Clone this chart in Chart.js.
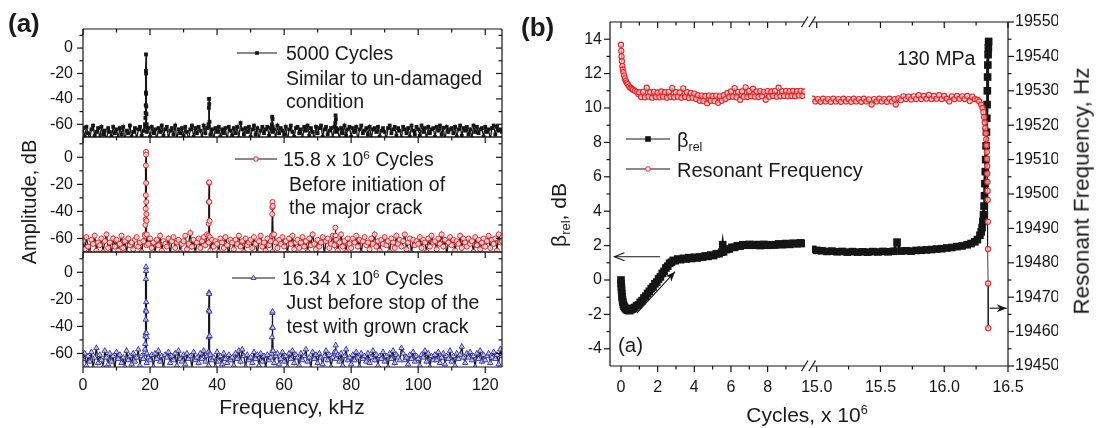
<!DOCTYPE html>
<html>
<head>
<meta charset="utf-8">
<script src="https://cdn.jsdelivr.net/npm/chart.js@4.4.1/dist/chart.umd.min.js"></script>
<style>
  body { margin: 0; background: #fff; }
  #fig { position: relative; width: 1096px; height: 428px; overflow: hidden;
         font-family: "Liberation Sans", Arial, sans-serif; color: #1a1a1a; }
  #fig canvas { position: absolute; top: 0; }
  .t { position: absolute; white-space: nowrap; line-height: 1; }
  .rot { transform: translate(-50%, -50%) rotate(-90deg); }
  .ctr { transform: translateX(-50%); }
  sup { font-size: 0.6em; vertical-align: 0.62em; line-height: 0; }
  sub { font-size: 0.62em; vertical-align: -0.32em; line-height: 0; }
</style>
</head>
<body>
<div id="fig">
  <canvas id="a1" width="520" height="428" style="left:0"></canvas>
  <canvas id="a2" width="520" height="428" style="left:0"></canvas>
  <canvas id="a3" width="520" height="428" style="left:0"></canvas>
  <canvas id="b1" width="576" height="428" style="left:520px"></canvas>
  <canvas id="b2" width="576" height="428" style="left:520px"></canvas>

  <div class="t" style="left:8px;top:10px;font-size:26px;font-weight:bold">(a)</div>
  <div class="t" style="left:521px;top:14px;font-size:26px;font-weight:bold">(b)</div>

  <div class="t rot" style="left:29px;top:202px;font-size:20px">Amplitude, dB</div>
  <div class="t ctr" style="left:292px;top:396px;font-size:21px">Frequency, kHz</div>

  <div class="t" style="left:286px;top:43.5px;font-size:19.5px">5000 Cycles</div>
  <div class="t" style="left:286px;top:68.5px;font-size:19.5px">Similar to un-damaged</div>
  <div class="t" style="left:286px;top:92px;font-size:19.5px">condition</div>
  <div class="t" style="left:283px;top:149.5px;font-size:19.5px">15.8 x 10<sup>6</sup> Cycles</div>
  <div class="t" style="left:289px;top:174.5px;font-size:19.5px">Before initiation of</div>
  <div class="t" style="left:289px;top:197.5px;font-size:19.5px">the major crack</div>
  <div class="t" style="left:282px;top:268.5px;font-size:19.5px">16.34 x 10<sup>6</sup> Cycles</div>
  <div class="t" style="left:286.5px;top:293px;font-size:19.5px">Just before stop of the</div>
  <div class="t" style="left:286.5px;top:317px;font-size:19.5px">test with grown crack</div>

  <div class="t" style="left:897px;top:48.5px;font-size:19.6px">130 MPa</div>
  <div class="t" style="left:618px;top:335px;font-size:20.5px">(a)</div>
  <div class="t" style="left:677px;top:130px;font-size:20px">β<sub>rel</sub></div>
  <div class="t" style="left:677px;top:159.5px;font-size:20px">Resonant Frequency</div>
  <div class="t rot" style="left:558px;top:215px;font-size:21px">β<sub>rel</sub>, dB</div>
  <div class="t ctr" style="left:807px;top:404px;font-size:21px">Cycles, x 10<sup>6</sup></div>
  <div class="t rot" style="left:1082px;top:191px;font-size:22.5px">Resonant Frequency, Hz</div>
</div>

<script>
// ---- panel (a): spectra, dB, sampled every 0.5 kHz from 0 to 125 kHz ----
const A_STEP_KHZ = 0.5;

const NOISE_5000 = [
  -63,-70,-62,-67,-72,-64,-61,-69,-66,-63,
  -71,-62,-68,-65,-74,-63,-66,-70,-62,-67,
  -64,-71,-63,-68,-62,-73,-65,-67,-61,-70,
  -66,-63,-72,-64,-62,-69,-65,-60,-66,-63,
  -70,-62,-67,-64,-73,-63,-66,-61,-69,-64,
  -62,-71,-65,-63,-68,-61,-72,-64,-67,-63,
  -69,-62,-66,-73,-64,-61,-70,-63,-67,-62,
  -65,-71,-61,-67,-63,-62,-68,-64,-72,-63,
  -66,-62,-70,-64,-67,-63,-73,-62,-65,-69,
  -63,-67,-62,-71,-59,-64,-68,-63,-66,-62,
  -70,-64,-61,-68,-63,-72,-65,-62,-67,-64,
  -62,-69,-63,-66,-64,-71,-61,-67,-63,-65,
  -68,-62,-73,-64,-61,-66,-70,-63,-62,-67,
  -64,-71,-62,-65,-61,-69,-63,-66,-72,-62,
  -67,-63,-61,-70,-64,-62,-68,-65,-63,-71,
  -62,-66,-64,-72,-63,-67,-61,-69,-64,-62,
  -70,-63,-66,-62,-73,-64,-61,-67,-65,-63,
  -68,-62,-71,-64,-63,-66,-62,-70,-65,-63,
  -66,-72,-63,-61,-67,-64,-62,-69,-63,-65,
  -71,-62,-64,-67,-63,-70,-61,-65,-68,-62,
  -64,-69,-61,-66,-63,-72,-62,-67,-64,-63,
  -70,-62,-65,-61,-68,-63,-73,-62,-66,-64,
  -63,-67,-62,-70,-64,-61,-69,-63,-65,-62,
  -68,-64,-71,-61,-66,-62,-67,-64,-63,-70,
  -62,-66,-64,-72,-63,-61,-68,-62,-65,-64,
  -66
];
const PEAKS_5000 = [
  [18.55,-62],[18.62,-55],[18.68,-51],[18.72,-45],[18.76,-35],[18.78,-18],[18.8,-5],
  [18.82,-20],[18.84,-36],[18.88,-46],[18.93,-52],[19.0,-60],
  [37.45,-60],[37.55,-47],[37.6,-40],[37.65,-44],[37.75,-58],
  [56.35,-60],[56.45,-54],[56.55,-56],[56.6,-62],
  [75.25,-59],[75.35,-53],[75.45,-56],[75.55,-63]
];

const NOISE_15_8M = [
  -62,-68,-59,-66,-71,-61,-64,-58,-69,-63,
  -65,-60,-70,-62,-57,-67,-63,-72,-60,-66,
  -61,-69,-64,-58,-67,-62,-71,-60,-65,-63,
  -68,-61,-59,-66,-63,-70,-62,-57,-65,-64,
  -60,-67,-63,-71,-61,-65,-58,-69,-62,-64,
  -66,-60,-72,-62,-59,-67,-63,-61,-70,-64,
  -62,-58,-68,-64,-56,-66,-61,-71,-63,-60,
  -67,-62,-59,-65,-57,-63,-69,-61,-66,-62,
  -64,-70,-60,-63,-67,-59,-65,-72,-61,-63,
  -68,-61,-64,-58,-66,-62,-70,-60,-65,-63,
  -61,-67,-59,-64,-71,-62,-58,-66,-63,-69,
  -60,-65,-62,-70,-57,-63,-67,-61,-64,-59,
  -66,-62,-71,-60,-64,-58,-68,-63,-61,-67,
  -63,-59,-66,-62,-70,-60,-65,-57,-64,-68,
  -61,-66,-63,-59,-72,-62,-60,-67,-64,-58,
  -65,-61,-69,-63,-57,-66,-62,-70,-60,-64,
  -67,-60,-63,-58,-66,-61,-71,-62,-59,-65,
  -63,-68,-60,-64,-57,-66,-62,-69,-61,-64,
  -59,-65,-62,-70,-60,-63,-67,-58,-64,-61,
  -66,-62,-57,-68,-63,-60,-71,-61,-65,-62,
  -64,-59,-67,-61,-63,-70,-60,-66,-58,-63,
  -62,-68,-60,-64,-57,-66,-61,-72,-63,-59,
  -65,-61,-69,-62,-64,-58,-67,-60,-63,-66,
  -60,-64,-62,-70,-59,-65,-61,-68,-63,-60,
  -66,-62,-58,-67,-61,-64,-60,-69,-57,-63,
  -62
];
const PEAKS_15_8M = [
  [18.5,-58],[18.6,-50],[18.66,-46],[18.7,-38],[18.74,-28],[18.77,-6],[18.8,4],
  [18.82,2],[18.84,-19],[18.87,-33],[18.9,-42],[18.95,-47],[19.02,-57],
  [37.4,-58],[37.5,-49],[37.56,-33],[37.6,-19],[37.64,-18.5],[37.7,-33],[37.76,-47],[37.85,-59],
  [56.35,-58],[56.45,-42],[56.5,-37],[56.55,-33],[56.6,-36],[56.7,-57],
  [75.25,-58],[75.3,-52],[75.4,-58]
];

const NOISE_16_34M = [
  -64,-60,-69,-62,-66,-59,-71,-63,-56,-67,
  -61,-65,-70,-58,-63,-68,-60,-66,-62,-72,
  -59,-64,-61,-67,-63,-70,-58,-65,-62,-68,
  -60,-66,-63,-57,-69,-62,-64,-59,-67,-63,
  -65,-61,-70,-60,-64,-58,-66,-62,-71,-61,
  -63,-59,-67,-62,-65,-60,-69,-58,-64,-66,
  -61,-68,-60,-64,-62,-71,-59,-65,-63,-67,
  -60,-64,-58,-66,-62,-69,-61,-65,-63,-70,
  -59,-66,-62,-68,-60,-64,-67,-61,-65,-63,
  -69,-60,-64,-58,-66,-57,-62,-70,-61,-65,
  -63,-67,-59,-64,-61,-69,-60,-66,-62,-71,
  -61,-65,-63,-58,-67,-62,-60,-68,-64,-59,
  -66,-62,-70,-60,-64,-58,-67,-61,-63,-69,
  -60,-65,-62,-57,-66,-63,-71,-59,-64,-61,
  -67,-60,-63,-68,-62,-58,-65,-61,-70,-63,
  -59,-64,-61,-66,-60,-69,-62,-57,-65,-63,
  -68,-61,-65,-59,-63,-70,-60,-64,-62,-66,
  -60,-67,-63,-58,-65,-61,-69,-62,-64,-59,
  -66,-62,-70,-60,-64,-58,-67,-61,-63,-65,
  -56,-60,-65,-63,-68,-61,-64,-59,-66,-62,
  -64,-69,-61,-63,-58,-66,-60,-70,-62,-65,
  -61,-65,-59,-67,-63,-60,-68,-62,-64,-58,
  -66,-62,-69,-60,-64,-61,-55,-63,-67,-60,
  -63,-59,-65,-62,-70,-60,-64,-58,-66,-61,
  -65,-62,-60,-67,-63,-59,-64,-61,-68,-57,
  -62
];
const PEAKS_16_34M = [
  [18.5,-57],[18.58,-53],[18.64,-47],[18.68,-45],[18.72,-35],[18.75,-28],[18.78,-5],
  [18.8,4],[18.82,1],[18.85,-22],[18.88,-29],[18.92,-45],[18.97,-48],[19.05,-60],
  [37.4,-59],[37.48,-48],[37.54,-28],[37.6,-15],[37.64,-16],[37.7,-29],[37.78,-47],[37.88,-60],
  [56.3,-60],[56.4,-48],[56.45,-41],[56.5,-30],[56.55,-29],[56.62,-41],[56.72,-58],
  [75.3,-60],[75.4,-54],[75.5,-59]
];

const A_X_TICKS = [0, 20, 40, 60, 80, 100, 120];
const A_X_MINOR = [10, 30, 50, 70, 90, 110];
const A_Y_TICKS = [0, -20, -40, -60];
const A_Y_MINOR = [10, -10, -30, -50];

// ---- panel (b): [cycles x 1e6, value] ----
const BETA_LOW = [
  [0,0.0],[0.01,-0.2],[0.02,-0.4],[0.03,-0.6],[0.045,-0.8],[0.06,-0.98],[0.08,-1.15],[0.1,-1.28],
  [0.13,-1.42],[0.16,-1.52],[0.2,-1.6],[0.25,-1.66],[0.3,-1.72],[0.36,-1.76],[0.42,-1.73],[0.48,-1.78],
  [0.54,-1.72],[0.6,-1.7],[0.67,-1.64],[0.75,-1.6],[0.85,-1.5],[0.95,-1.44],
  [1.05,-1.3],[1.15,-1.2],[1.25,-1.05],[1.35,-0.94],[1.45,-0.78],[1.55,-0.66],[1.65,-0.5],[1.75,-0.4],
  [1.85,-0.22],[1.95,-0.12],[2.05,0.06],[2.15,0.18],[2.25,0.38],[2.35,0.5],[2.45,0.7],[2.55,0.8],
  [2.65,0.97],[2.75,1.03],[2.85,1.14],[2.95,1.12],[3.1,1.22],[3.25,1.18],[3.4,1.26],[3.55,1.22],
  [3.7,1.3],[3.85,1.25],[4.0,1.32],[4.15,1.28],[4.3,1.34],[4.45,1.33],[4.6,1.4],[4.75,1.37],
  [4.9,1.45],[5.05,1.42],[5.2,1.52],[5.35,1.53],[5.5,1.62],[5.55,2.05],[5.6,1.64],[5.75,1.77],
  [5.9,1.8],[6.05,1.9],[6.2,1.9],[6.35,1.99],[6.5,1.97],[6.65,2.05],[6.8,2.02],[7.0,2.07],
  [7.2,2.02],[7.4,2.06],[7.6,2.0],[7.8,2.07],[8.0,2.02],[8.2,2.05],[8.4,2.03],[8.6,2.1],
  [8.8,2.05],[9.0,2.12],[9.2,2.07],[9.4,2.14],[9.6,2.1],[9.8,2.16],[10.0,2.12]
];
const BETA_HIGH = [
  [14.97,1.78],[15.0,1.72],[15.04,1.7],[15.08,1.66],[15.12,1.68],[15.16,1.64],[15.2,1.66],[15.24,1.62],
  [15.28,1.65],[15.32,1.62],[15.36,1.64],[15.4,1.62],[15.44,1.65],[15.48,1.63],[15.52,1.66],[15.56,1.64],
  [15.6,1.67],[15.63,2.2],[15.66,1.68],[15.7,1.7],[15.74,1.68],[15.78,1.72],[15.82,1.73],[15.86,1.75],
  [15.9,1.77],[15.94,1.8],[15.98,1.82],[16.02,1.86],[16.06,1.89],[16.1,1.94],[16.14,1.98],[16.18,2.05],
  [16.21,2.12],[16.24,2.22],[16.26,2.35],[16.28,2.6],[16.29,2.8],[16.297,3.05],[16.303,3.4],[16.308,3.8],
  [16.312,4.3],[16.316,4.9],[16.319,5.6],[16.322,6.3],[16.325,7.0],[16.328,7.8],[16.331,8.6],[16.334,9.4],
  [16.336,10.2],[16.338,11.0],[16.34,11.8],[16.342,12.5],[16.344,13.1],[16.346,13.5],[16.348,13.87]
];
const FREQ_LOW = [
  [0.0,19543.4],[0.015,19541.6],[0.03,19540.0],[0.05,19538.6],[0.075,19537.2],[0.1,19536.2],
  [0.13,19535.4],[0.17,19534.4],[0.21,19533.6],[0.26,19532.9],[0.31,19532.4],[0.37,19531.9],
  [0.44,19531.3],[0.51,19530.9],[0.58,19530.6],[0.66,19530.3],[0.75,19530.0],[0.85,19529.7],[0.95,19529.1],
  [1.0,19529.6],[1.1,19528.2],[1.2,19529.7],[1.3,19528.1],[1.4,19530.9],[1.5,19528.3],[1.6,19529.6],[1.7,19528.0],[1.8,19529.7],[1.9,19528.2],
  [2.0,19529.5],[2.1,19528.1],[2.2,19529.8],[2.3,19528.3],[2.4,19529.6],[2.5,19528.0],[2.6,19529.7],[2.7,19528.2],[2.8,19530.8],[2.9,19528.1],
  [3.0,19529.6],[3.1,19528.3],[3.2,19529.5],[3.3,19528.0],[3.4,19530.7],[3.5,19528.2],[3.6,19529.6],[3.7,19527.9],[3.8,19529.4],[3.9,19528.0],
  [4.0,19529.2],[4.1,19527.6],[4.2,19528.7],[4.3,19527.1],[4.4,19528.6],[4.5,19527.0],[4.6,19528.5],[4.7,19526.4],[4.8,19528.6],[4.9,19527.1],
  [5.0,19528.5],[5.1,19527.0],[5.2,19528.6],[5.3,19526.5],[5.4,19528.4],[5.5,19527.1],[5.6,19528.7],[5.7,19527.6],[5.8,19529.3],[5.9,19528.2],
  [6.0,19529.8],[6.1,19528.3],[6.2,19530.8],[6.3,19528.1],[6.4,19529.7],[6.5,19527.4],[6.6,19529.8],[6.7,19528.3],[6.8,19531.0],[6.9,19528.2],
  [7.0,19529.9],[7.1,19528.4],[7.2,19530.6],[7.3,19528.3],[7.4,19529.8],[7.5,19528.2],[7.6,19529.9],[7.7,19528.4],[7.8,19529.7],[7.9,19527.4],
  [8.0,19529.9],[8.1,19528.3],[8.2,19529.8],[8.3,19528.5],[8.4,19530.0],[8.5,19528.3],[8.6,19530.9],[8.7,19528.4],[8.8,19529.9],[8.9,19528.5],
  [9.0,19530.0],[9.1,19528.4],[9.2,19529.9],[9.3,19528.5],[9.4,19530.0],[9.5,19528.4],[9.6,19529.9],[9.7,19528.6],[9.8,19530.0],[9.9,19528.5],
  [10.0,19529.8]
];
const FREQ_HIGH = [
  [14.97,19527.7],[14.99,19526.9],[15.01,19527.6],[15.03,19526.8],[15.05,19527.7],[15.07,19526.9],[15.09,19527.6],
  [15.11,19526.8],[15.13,19527.7],[15.15,19526.9],[15.17,19527.6],[15.19,19526.8],[15.21,19527.7],[15.23,19526.9],
  [15.25,19527.6],[15.27,19526.8],[15.29,19527.7],[15.31,19526.9],[15.33,19527.6],[15.35,19526.8],[15.37,19527.7],
  [15.39,19526.9],[15.41,19527.5],[15.43,19526.0],[15.45,19527.6],[15.47,19526.9],[15.49,19527.7],[15.51,19526.9],
  [15.53,19527.6],[15.55,19526.8],[15.57,19527.7],[15.59,19526.9],[15.61,19527.6],[15.62,19526.0],[15.64,19527.8],
  [15.66,19527.3],[15.68,19528.4],[15.7,19527.6],[15.72,19528.3],[15.74,19527.5],[15.76,19528.4],[15.78,19527.6],
  [15.8,19528.7],[15.82,19527.6],[15.84,19528.5],[15.86,19527.7],[15.88,19528.8],[15.9,19527.6],[15.92,19528.5],
  [15.94,19527.7],[15.96,19528.7],[15.98,19527.6],[16.0,19528.5],[16.02,19527.7],[16.04,19526.9],[16.06,19528.4],
  [16.08,19527.6],[16.1,19528.5],[16.12,19527.7],[16.14,19528.4],[16.16,19527.6],[16.18,19528.5],[16.2,19527.0],
  [16.22,19528.3],[16.24,19527.6],[16.26,19527.4],[16.275,19526.9],[16.29,19526.0],[16.3,19525.0],[16.307,19523.8],
  [16.313,19522.4],[16.318,19520.8],[16.322,19519.2],[16.326,19517.6],[16.329,19515.9],[16.332,19514.1],
  [16.334,19512.2],[16.336,19510.2],[16.337,19508.1],[16.338,19505.9],[16.339,19503.5],[16.34,19500.9],
  [16.341,19498.3],[16.342,19491.9],[16.343,19484],[16.344,19474],[16.345,19461]
];

const B_Y_TICKS = [-4, -2, 0, 2, 4, 6, 8, 10, 12, 14];
const B_Y_MINOR = [-3, -1, 1, 3, 5, 7, 9, 11, 13];
const B_F_TICKS = [19450, 19460, 19470, 19480, 19490, 19500, 19510, 19520, 19530, 19540, 19550];
const B_F_MINOR = [19455, 19465, 19475, 19485, 19495, 19505, 19515, 19525, 19535, 19545];
const B_XLO_TICKS = [0, 2, 4, 6, 8];
const B_XLO_MINOR = [1, 3, 5, 7, 9];
const B_XHI_TICKS = [15, 15.5, 16, 16.5];
const B_XHI_MINOR = [15.25, 15.75, 16.25];

const INK = '#151515';
const RED = '#e8262a';
const BLUE = '#3d3dab';

Chart.defaults.font.family = '"Liberation Sans", Arial, sans-serif';
Chart.defaults.font.size = 16;
Chart.defaults.color = INK;

// ---- helpers ----
function mergeSpectrum(noise, peaks) {
  const pts = noise.map((y, i) => ({ x: i * A_STEP_KHZ, y }));
  peaks.forEach(([x, y]) => pts.push({ x, y }));
  return pts.sort((p, q) => p.x - q.x);
}
const toXY = arr => arr.map(([x, y]) => ({ x, y }));

function marker(ctx, style, x, y, r, stroke, fill) {
  ctx.save();
  ctx.strokeStyle = stroke; ctx.fillStyle = fill; ctx.lineWidth = 1;
  ctx.beginPath();
  if (style === 'rect') {
    const s = r * Math.SQRT1_2;
    ctx.rect(x - s, y - s, 2 * s, 2 * s);
    ctx.fill();
  } else if (style === 'triangle') {
    ctx.moveTo(x, y - r); ctx.lineTo(x + r * 0.87, y + r * 0.5); ctx.lineTo(x - r * 0.87, y + r * 0.5);
    ctx.closePath(); ctx.fill(); ctx.stroke();
  } else {
    ctx.arc(x, y, r, 0, Math.PI * 2); ctx.fill(); ctx.stroke();
  }
  ctx.restore();
}

function arrow(ctx, x1, y1, x2, y2, solid) {
  const len = 10, wid = 4;
  ctx.beginPath(); ctx.moveTo(x1, y1); ctx.lineTo(x2, y2); ctx.stroke();
  const ang = Math.atan2(y2 - y1, x2 - x1);
  const bx = x2 - len * Math.cos(ang), by = y2 - len * Math.sin(ang);
  const nx = -Math.sin(ang) * wid, ny = Math.cos(ang) * wid;
  ctx.beginPath();
  if (solid) {
    ctx.moveTo(x2, y2); ctx.lineTo(bx + nx, by + ny);
    ctx.lineTo(bx + (x2 - bx) * 0.3, by + (y2 - by) * 0.3);
    ctx.lineTo(bx - nx, by - ny); ctx.closePath(); ctx.fill();
  } else {
    ctx.moveTo(bx + nx, by + ny); ctx.lineTo(x2, y2); ctx.lineTo(bx - nx, by - ny); ctx.stroke();
  }
}

// frame, ticks, legend samples, arrows and axis breaks, one plugin per chart
function framePlugin(cfg) {
  return {
    id: 'frame',
    afterDraw(chart) {
      const { ctx, chartArea: a } = chart;
      ctx.save();
      ctx.strokeStyle = INK; ctx.fillStyle = INK; ctx.lineWidth = 1.2;
      ctx.beginPath();
      cfg.sides.forEach(s => {
        if (s === 'top') { ctx.moveTo(a.left, a.top); ctx.lineTo(a.right, a.top); }
        if (s === 'bottom') { ctx.moveTo(a.left, a.bottom); ctx.lineTo(a.right, a.bottom); }
        if (s === 'left') { ctx.moveTo(a.left, a.top); ctx.lineTo(a.left, a.bottom); }
        if (s === 'right') { ctx.moveTo(a.right, a.top); ctx.lineTo(a.right, a.bottom); }
      });
      ctx.stroke();

      cfg.ticks.forEach(t => {
        const sc = chart.scales[t.scale];
        const d = t.dir === 'in' ? -1 : 1;
        const draw = (vals, len) => vals.forEach(v => {
          if (v < sc.min || v > sc.max) return;
          const p = sc.getPixelForValue(v);
          ctx.beginPath();
          if (t.side === 'bottom') { ctx.moveTo(p, a.bottom); ctx.lineTo(p, a.bottom + d * len); }
          else if (t.side === 'top') { ctx.moveTo(p, a.top); ctx.lineTo(p, a.top - d * len); }
          else if (t.side === 'left') { ctx.moveTo(a.left, p); ctx.lineTo(a.left - d * len, p); }
          else { ctx.moveTo(a.right, p); ctx.lineTo(a.right + d * len, p); }
          ctx.stroke();
        });
        draw(t.major, 6);
        draw(t.minor, 3.5);
      });

      (cfg.legend || []).forEach(l => {
        ctx.lineWidth = 1.2;
        ctx.beginPath(); ctx.moveTo(l.x1, l.y); ctx.lineTo(l.x2, l.y); ctx.stroke();
        marker(ctx, l.style, (l.x1 + l.x2) / 2, l.y, l.r, l.stroke, l.fill);
      });

      (cfg.arrows || []).forEach(r => {
        const xs = chart.scales.x, ys = chart.scales[r.y];
        ctx.lineWidth = 1.1;
        arrow(ctx, xs.getPixelForValue(r.from[0]), ys.getPixelForValue(r.from[1]),
              xs.getPixelForValue(r.to[0]), ys.getPixelForValue(r.to[1]), r.solid);
      });

      if (cfg.breakAtRight) {
        ctx.lineWidth = 1.2;
        [a.top, a.bottom].forEach(y => {
          ctx.beginPath();
          ctx.moveTo(a.right - 3.5, y + 5); ctx.lineTo(a.right + 3, y - 5.5);
          ctx.moveTo(a.right + 4, y + 5); ctx.lineTo(a.right + 10.5, y - 5.5);
          ctx.stroke();
        });
      }
      ctx.restore();
    }
  };
}

function fixedTicks(vals) {
  return s => { s.ticks = vals.map(v => ({ value: v })); };
}
function axisText(pad, fmt) {
  return { padding: pad, autoSkip: false, maxRotation: 0, color: INK, font: { size: 16 },
           callback: fmt || (v => String(v)) };
}
const NO_GRID = { display: false, drawTicks: false };
const NO_BORDER = { display: false };

// ---- panel (a) ----
function spectrumChart(id, top, bottom, showX, data, ds, legend) {
  const ticks = [
    { side: 'left', scale: 'y', dir: 'out', major: A_Y_TICKS, minor: A_Y_MINOR },
    { side: 'right', scale: 'y', dir: 'in', major: A_Y_TICKS, minor: A_Y_MINOR },
    { side: 'top', scale: 'x', dir: 'in', major: A_X_TICKS, minor: A_X_MINOR }
  ];
  if (showX) ticks.push({ side: 'bottom', scale: 'x', dir: 'out', major: A_X_TICKS, minor: A_X_MINOR });
  const xAxis = { type: 'linear', min: 0, max: 125, display: showX,
                  afterBuildTicks: fixedTicks(A_X_TICKS),
                  grid: NO_GRID, border: NO_BORDER, ticks: axisText(9) };
  if (showX) xAxis.afterFit = s => { s.height = 30; };
  return new Chart(document.getElementById(id), {
    type: 'line',
    data: { datasets: [Object.assign({ data, borderColor: INK, borderWidth: 1.3, tension: 0 }, ds)] },
    options: {
      responsive: false, animation: false, events: [],
      layout: { padding: { left: 43, right: 18, top: top, bottom: showX ? 428 - bottom - 30 : 428 - bottom } },
      plugins: { legend: { display: false }, tooltip: { enabled: false } },
      scales: {
        x: xAxis,
        y: { type: 'linear', min: -70, max: 15,
             afterBuildTicks: fixedTicks(A_Y_TICKS), afterFit: s => { s.width = 40; },
             grid: NO_GRID, border: NO_BORDER, ticks: axisText(10) }
      }
    },
    plugins: [framePlugin({ sides: ['top', 'bottom', 'left', 'right'], ticks, legend: [legend] })]
  });
}

spectrumChart('a1', 29, 137, false, mergeSpectrum(NOISE_5000, PEAKS_5000),
  { pointStyle: 'rect', pointRadius: 2.7, pointBorderWidth: 0, pointBackgroundColor: INK },
  { x1: 237, x2: 277, y: 53, style: 'rect', r: 2.6, stroke: INK, fill: INK });
spectrumChart('a2', 137, 252, false, mergeSpectrum(NOISE_15_8M, PEAKS_15_8M),
  { pointStyle: 'circle', pointRadius: 2.5, pointBorderWidth: 1, pointBorderColor: RED,
    pointBackgroundColor: 'rgba(255,225,225,0.85)' },
  { x1: 235, x2: 277, y: 159, style: 'circle', r: 2.3, stroke: RED, fill: '#ffe4e4' });
spectrumChart('a3', 252, 367, true, mergeSpectrum(NOISE_16_34M, PEAKS_16_34M),
  { pointStyle: 'triangle', pointRadius: 3.1, pointBorderWidth: 1, pointBorderColor: BLUE,
    pointBackgroundColor: 'rgba(215,215,245,0.85)' },
  { x1: 232, x2: 275, y: 278, style: 'triangle', r: 2.8, stroke: BLUE, fill: '#d7d7f5' });

// ---- panel (b): broken cycles axis, drawn as two charts side by side ----
function lifeDatasets(beta, freq) {
  return [
    { data: toXY(freq), yAxisID: 'y2', borderColor: INK, borderWidth: 0.8, tension: 0,
      pointStyle: 'circle', pointRadius: 2.6, pointBorderWidth: 1.1, pointBorderColor: RED,
      pointBackgroundColor: 'rgba(255,200,200,0.7)' },
    { data: toXY(beta), yAxisID: 'y', borderColor: INK, borderWidth: 3, tension: 0,
      pointStyle: 'rect', pointRadius: 5.4, pointBorderWidth: 0, pointBackgroundColor: INK }
  ];
}

new Chart(document.getElementById('b1'), {
  type: 'line',
  data: { datasets: lifeDatasets(BETA_LOW, FREQ_LOW) },
  options: {
    responsive: false, animation: false, events: [],
    layout: { padding: { left: 40, right: 291, top: 22, bottom: 32 } },
    plugins: { legend: { display: false }, tooltip: { enabled: false } },
    scales: {
      x: { type: 'linear', min: -0.6, max: 10.04,
           afterBuildTicks: fixedTicks(B_XLO_TICKS), afterFit: s => { s.height = 30; },
           grid: NO_GRID, border: NO_BORDER, ticks: axisText(12) },
      y: { type: 'linear', position: 'left', min: -5, max: 15,
           afterBuildTicks: fixedTicks(B_Y_TICKS), afterFit: s => { s.width = 50; },
           grid: NO_GRID, border: NO_BORDER, ticks: axisText(8) },
      y2: { type: 'linear', position: 'right', min: 19450, max: 19550, display: false }
    }
  },
  plugins: [framePlugin({
    sides: ['top', 'bottom', 'left'],
    breakAtRight: true,
    ticks: [
      { side: 'left', scale: 'y', dir: 'out', major: B_Y_TICKS, minor: B_Y_MINOR },
      { side: 'bottom', scale: 'x', dir: 'out', major: B_XLO_TICKS, minor: B_XLO_MINOR },
      { side: 'top', scale: 'x', dir: 'in', major: B_XLO_TICKS, minor: B_XLO_MINOR }
    ],
    legend: [
      { x1: 106, x2: 150, y: 139, style: 'rect', r: 4, stroke: INK, fill: INK },
      { x1: 106, x2: 150, y: 169, style: 'circle', r: 2.3, stroke: RED, fill: '#ffecec' }
    ],
    arrows: [
      { y: 'y', from: [2.13, 1.35], to: [-0.36, 1.35], solid: false },
      { y: 'y', from: [0.86, -1.93], to: [2.95, 0.48], solid: true }
    ]
  })]
});

new Chart(document.getElementById('b2'), {
  type: 'line',
  data: { datasets: lifeDatasets(BETA_HIGH, FREQ_HIGH) },
  options: {
    responsive: false, animation: false, events: [],
    layout: { padding: { left: 292, right: 38, top: 22, bottom: 32 } },
    plugins: { legend: { display: false }, tooltip: { enabled: false } },
    scales: {
      x: { type: 'linear', min: 14.963, max: 16.5,
           afterBuildTicks: fixedTicks(B_XHI_TICKS), afterFit: s => { s.height = 30; },
           grid: NO_GRID, border: NO_BORDER, ticks: axisText(12, v => v.toFixed(1)) },
      y: { type: 'linear', position: 'left', min: -5, max: 15, display: false },
      y2: { type: 'linear', position: 'right', min: 19450, max: 19550,
            afterBuildTicks: fixedTicks(B_F_TICKS), afterFit: s => { s.width = 50; },
            grid: NO_GRID, border: NO_BORDER, ticks: axisText(7) }
    }
  },
  plugins: [framePlugin({
    sides: ['top', 'bottom', 'right'],
    ticks: [
      { side: 'right', scale: 'y2', dir: 'out', major: B_F_TICKS, minor: B_F_MINOR },
      { side: 'bottom', scale: 'x', dir: 'out', major: B_XHI_TICKS, minor: B_XHI_MINOR },
      { side: 'top', scale: 'x', dir: 'in', major: B_XHI_TICKS, minor: B_XHI_MINOR }
    ],
    arrows: [
      { y: 'y2', from: [16.356, 19466.8], to: [16.49, 19466.8], solid: true }
    ]
  })]
});
</script>
</body>
</html>
